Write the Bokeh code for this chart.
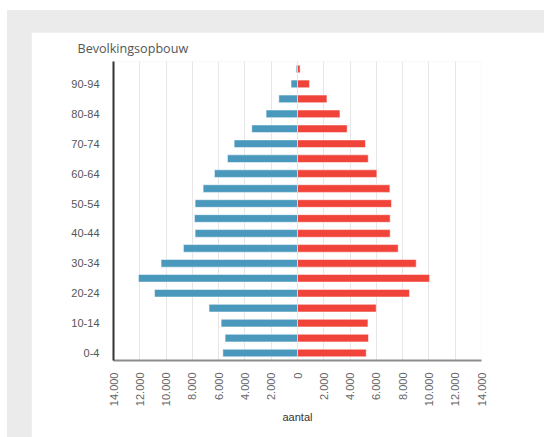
import math
from bokeh.plotting import figure
from bokeh.layouts import column
from bokeh.models import ColumnDataSource, Range1d, FixedTicker
from bokeh.embed import file_html
from bokeh.resources import INLINE

# ---- data ----
title_text = "Bevolkingsopbouw"
age_groups = ["0-4", "5-9", "10-14", "15-19", "20-24", "25-29", "30-34", "35-39",
              "40-44", "45-49", "50-54", "55-59", "60-64", "65-69", "70-74",
              "75-79", "80-84", "85-89", "90-94", "95-99"]
male = [5680, 5510, 5810, 6730, 10880, 12100, 10380, 8680, 7790, 7840,
        7790, 7180, 6320, 5330, 4820, 3480, 2390, 1420, 490, 100]
female = [5230, 5400, 5360, 5990, 8520, 10050, 9030, 7660, 7050, 7050,
          7150, 7030, 6040, 5380, 5170, 3780, 3230, 2240, 910, 200]
x_ticks = [-14000, -12000, -10000, -8000, -6000, -4000, -2000, 0,
           2000, 4000, 6000, 8000, 10000, 12000, 14000]
x_tick_labels = ["14.000", "12.000", "10.000", "8.000", "6.000", "4.000", "2.000", "0",
                 "2.000", "4.000", "6.000", "8.000", "10.000", "12.000", "14.000"]
y_ticks = [0, 2, 4, 6, 8, 10, 12, 14, 16, 18]
y_tick_labels = ["0-4", "10-14", "20-24", "30-34", "40-44", "50-54", "60-64",
                 "70-74", "80-84", "90-94"]

src = ColumnDataSource(dict(
    y=list(range(len(age_groups))),
    age=age_groups,
    male_left=[-v for v in male],
    female=female,
))

W, H = 513, 405
p = figure(width=W, height=H, output_backend="svg", toolbar_location=None,
           x_range=Range1d(-14000, 14000), y_range=Range1d(-0.5, len(age_groups) - 0.5),
           min_border_left=82, min_border_right=63,
           min_border_top=27, min_border_bottom=77,
           title=title_text, margin=(22, 0, 0, 24))
p.background_fill_color = "white"
p.border_fill_color = "white"
p.outline_line_color = None

p.title.text_font = "Open Sans"
p.title.text_font_size = "12.6px"
p.title.text_font_style = "normal"
p.title.text_color = "#555555"
p.title.align = "left"
p.title.offset = -36
p.title.standoff = 9.5

p.hbar(y="y", left="male_left", right=0, height=0.51, source=src,
       fill_color="#4a99bd", line_color="white", line_alpha=0.5, line_width=1)
p.hbar(y="y", left=0, right="female", height=0.51, source=src,
       fill_color="#f0443a", line_color="white", line_alpha=0.5, line_width=1)

# x axis
xa = p.xaxis[0]
xa.ticker = FixedTicker(ticks=x_ticks)
xa.major_label_overrides = {t: l for t, l in zip(x_ticks, x_tick_labels)}
xa.major_label_orientation = math.pi / 2
xa.major_label_text_font = "Liberation Sans"
xa.major_label_text_font_size = "11px"
xa.major_label_text_color = "#666666"
xa.major_label_standoff = 12
xa.major_tick_in = 0
xa.major_tick_out = 0
xa.minor_tick_in = 0
xa.minor_tick_out = 0
xa.axis_line_color = "#8c8c8c"
xa.axis_line_width = 2
xa.axis_label = "aantal"
xa.axis_label_text_font = "Liberation Sans"
xa.axis_label_text_font_size = "11px"
xa.axis_label_text_font_style = "normal"
xa.axis_label_text_color = "#333333"
xa.axis_label_standoff = 2

# y axis
ya = p.yaxis[0]
ya.ticker = FixedTicker(ticks=y_ticks)
ya.major_label_overrides = {t: l for t, l in zip(y_ticks, y_tick_labels)}
ya.major_label_text_font = "Liberation Sans"
ya.major_label_text_font_size = "11px"
ya.major_label_text_color = "#555555"
ya.major_label_standoff = 14
ya.major_tick_in = 0
ya.major_tick_out = 0
ya.minor_tick_in = 0
ya.minor_tick_out = 0
ya.axis_line_color = "#333333"
ya.axis_line_width = 2

p.xgrid.ticker = FixedTicker(ticks=x_ticks)
p.xgrid.grid_line_color = "#e6e6e6"
p.xgrid.grid_line_width = 1
p.ygrid.grid_line_color = None

# grey page background around the white card
page = column(p, margin=(10, 0, 0, 7), styles={"background-color": "#ebebeb"})

open("out.html", "w").write(file_html(page, INLINE))
